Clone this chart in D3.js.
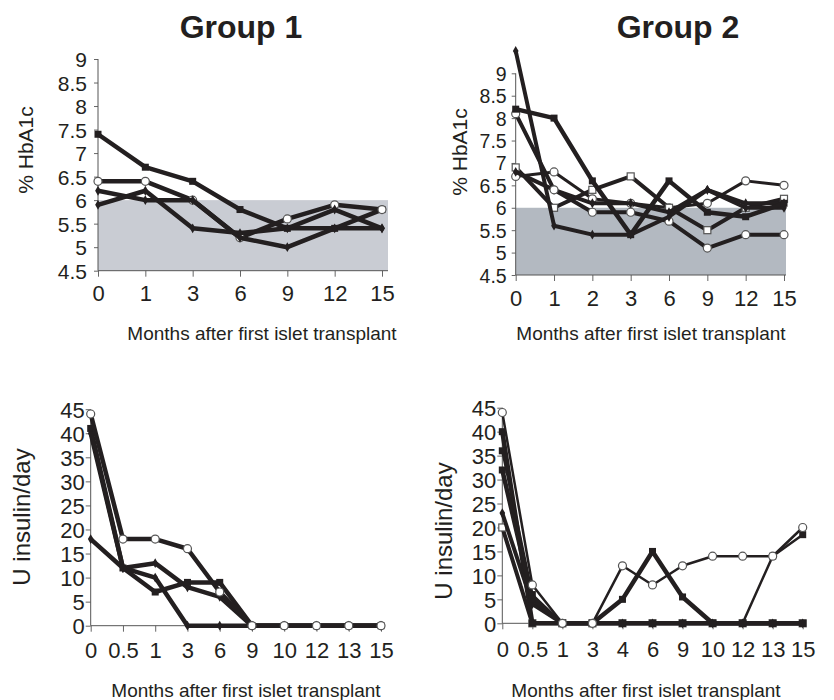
<!DOCTYPE html>
<html>
<head>
<meta charset="utf-8">
<script src="https://cdn.jsdelivr.net/npm/d3@7"></script>
<style>
  body { margin: 0; background: #fff; }
  text { font-family: "Liberation Sans", Arial, Helvetica, sans-serif; fill: #231f20; }
</style>
</head>
<body>
<div id="chart"></div>
<script>
// ---- data ----
// HbA1c, group 1
const hbaMonthsG1 = ['0', '1', '3', '6', '9', '12', '15'];
const g1HbaSquare = [7.4, 6.7, 6.4, 5.8, 5.4, 5.4, 5.8];
const g1HbaCircle = [6.4, 6.4, 6.0, 5.2, 5.6, 5.9, 5.8];
const g1HbaDiamondA = [6.2, 6.0, 6.0, 5.2, 5.0, 5.4, 5.4];
const g1HbaDiamondB = [5.9, 6.2, 5.4, 5.3, 5.4, 5.8, 5.4];

// HbA1c, group 2
const hbaMonthsG2 = ['0', '1', '2', '3', '6', '9', '12', '15'];
const g2HbaSquare = [8.2, 8.0, 6.6, 5.4, 6.6, 5.9, 5.8, 6.1];
const g2HbaDiamondA = [9.5, 5.6, 5.4, 5.4, 5.8, 6.4, 6.1, 6.1];
const g2HbaOpenSquare = [6.9, 6.0, 6.4, 6.7, 6.0, 5.5, 6.0, 6.2];
const g2HbaCircleA = [6.7, 6.8, 6.2, 6.1, 6.0, 6.1, 6.6, 6.5];
const g2HbaCircleB = [8.1, 6.4, 5.9, 5.9, 5.7, 5.1, 5.4, 5.4];
const g2HbaDiamondB = [6.8, 6.4, 6.1, 6.1, 5.9, 6.4, 6.0, 6.0];

// insulin, group 1
const insMonthsG1 = ['0', '0.5', '1', '3', '6', '9', '10', '12', '13', '15'];
const g1InsCircle = [44, 18, 18, 16, 7, 0, 0, 0, 0, 0];
const g1InsSquare = [41, 12, 7, 9, 9, 0, 0, 0, 0, 0];
const g1InsDiamondA = [40, 12, 10, 0, 0, 0, 0, 0, 0, 0];
const g1InsDiamondB = [18, 12, 13, 8, 6, 0, 0, 0, 0, 0];

// insulin, group 2
const insMonthsG2 = ['0', '0.5', '1', '3', '4', '6', '9', '10', '12', '13', '15'];
const g2InsCircle = [44, 8, 0, 0, 12, 8, 12, 14, 14, 14, 20];
const g2InsSquareA = [32, 5, 0, 0, 5, 15, 5.5, 0, 0, 0, 0];
const g2InsSquareB = [36, 6, 0, 0, 0, 0, 0, 0, 0, 14, 18.5];
const g2InsSquareC = [40, 0, 0, 0, 0, 0, 0, 0, 0, 0, 0];
const g2InsDiamond = [23, 4, 0, 0, 0, 0, 0, 0, 0, 0, 0];
const g2InsOpenSquare = [20, 0, 0, 0, 0, 0, 0, 0, 0, 0, 0];

// axis ticks
const hbaTicks = [4.5, 5, 5.5, 6, 6.5, 7, 7.5, 8, 8.5, 9];
const insTicks = [0, 5, 10, 15, 20, 25, 30, 35, 40, 45];
const normalRange = [4.5, 6]; // shaded band

const ink = '#231f20';
const svg = d3.select('#chart').append('svg')
  .attr('width', 834).attr('height', 700)
  .style('background', '#fff');

// drawMarker()
// one marker of a given kind at (cx, cy)
function drawMarker(g, kind, cx, cy) {
  if (kind === 'square') {
    g.append('rect').attr('x', cx - 3.5).attr('y', cy - 3.5).attr('width', 7).attr('height', 7).attr('fill', ink);
  } else if (kind === 'opensquare') {
    g.append('rect').attr('x', cx - 3.5).attr('y', cy - 3.5).attr('width', 7).attr('height', 7)
      .attr('fill', '#fff').attr('stroke', '#555').attr('stroke-width', 1.2);
  } else if (kind === 'circle') {
    g.append('circle').attr('cx', cx).attr('cy', cy).attr('r', 4)
      .attr('fill', '#fff').attr('stroke', '#555').attr('stroke-width', 1.2);
  } else if (kind === 'diamond') {
    g.append('path').attr('d', d3.symbol(d3.symbolDiamond, 28)()).attr('transform', 'translate(' + cx + ',' + cy + ')').attr('fill', ink);
  }
}

// drawPanel()
// band, axes, series and labels for one of the four charts
function drawPanel(cfg) {
  const x = d3.scalePoint().domain(cfg.months).range(cfg.xRange);
  const y = d3.scaleLinear().domain(cfg.yDomain).range(cfg.yRange);
  const g = svg.append('g');
  const x0 = cfg.xRange[0];
  const x1 = cfg.xRange[1] + cfg.overhang;

  if (cfg.bandColor) {
    g.append('rect')
      .attr('x', x0).attr('y', y(normalRange[1]))
      .attr('width', x1 - x0).attr('height', y(normalRange[0]) - y(normalRange[1]))
      .attr('fill', cfg.bandColor);
  }

  // y axis
  const ya = g.append('g').attr('transform', 'translate(' + x0 + ',0)')
    .call(d3.axisLeft(y).tickValues(cfg.yTicks).tickSizeInner(cfg.yTickSize).tickSizeOuter(0).tickFormat(d => String(d)));
  ya.select('.domain').remove();
  ya.selectAll('.tick line').attr('stroke', '#666');
  ya.selectAll('.tick text').attr('x', -cfg.yLabelGap).attr('dy', '0.36em')
    .style('font-size', cfg.yTickFont + 'px').attr('fill', ink);
  g.append('line').attr('x1', x0).attr('x2', x0)
    .attr('y1', y(cfg.yTicks[cfg.yTicks.length - 1])).attr('y2', y(cfg.yDomain[0]))
    .attr('stroke', '#555');

  // x axis
  const xa = g.append('g').attr('transform', 'translate(0,' + y(cfg.yDomain[0]) + ')')
    .call(d3.axisBottom(x).tickSizeInner(6).tickSizeOuter(0));
  xa.select('.domain').remove();
  xa.selectAll('.tick line').attr('stroke', '#666');
  xa.selectAll('.tick text').attr('y', cfg.xLabelDy).attr('dy', 0)
    .style('font-size', cfg.tickFont + 'px').attr('fill', ink);
  g.append('line').attr('x1', x0).attr('x2', x1)
    .attr('y1', y(cfg.yDomain[0])).attr('y2', y(cfg.yDomain[0]))
    .attr('stroke', '#555');

  // series
  const line = d3.line().x((d, i) => x(cfg.months[i])).y(d => y(d));
  cfg.series.forEach(s => {
    g.append('path').attr('d', line(s.values))
      .attr('fill', 'none').attr('stroke', ink)
      .attr('stroke-width', s.width).attr('stroke-linejoin', 'round');
    s.values.forEach((v, i) => drawMarker(g, s.marker, x(cfg.months[i]), y(v)));
  });

  // titles
  g.append('text')
    .attr('x', cfg.xTitle[0]).attr('y', cfg.xTitle[1])
    .attr('text-anchor', 'middle').style('font-size', '19px')
    .text('Months after first islet transplant');
  g.append('text')
    .attr('transform', 'translate(' + cfg.yTitle[0] + ',' + cfg.yTitle[1] + ') rotate(-90)')
    .attr('text-anchor', 'middle').style('font-size', cfg.yTitleFont + 'px')
    .text(cfg.yTitleText);
}

svg.append('text').attr('x', 241).attr('y', 38).attr('text-anchor', 'middle')
  .style('font-size', '32px').style('font-weight', 'bold').text('Group 1');
svg.append('text').attr('x', 678).attr('y', 38).attr('text-anchor', 'middle')
  .style('font-size', '32px').style('font-weight', 'bold').text('Group 2');

drawPanel({
  months: hbaMonthsG1, xRange: [98, 382], overhang: 6,
  yDomain: [4.5, 9], yRange: [270.7, 59], yTicks: hbaTicks,
  bandColor: '#c9ccd3', tickFont: 22, yTickFont: 21, yTickSize: 4, yLabelGap: 11, xLabelDy: 30,
  xTitle: [262, 340], yTitle: [33, 150], yTitleFont: 21, yTitleText: '% HbA1c',
  series: [
    { values: g1HbaSquare, marker: 'square', width: 4.5 },
    { values: g1HbaCircle, marker: 'circle', width: 4.5 },
    { values: g1HbaDiamondA, marker: 'diamond', width: 4.5 },
    { values: g1HbaDiamondB, marker: 'diamond', width: 4.5 },
  ],
});

drawPanel({
  months: hbaMonthsG2, xRange: [515.7, 784], overhang: 2,
  yDomain: [4.5, 9], yRange: [275, 73.3], yTicks: hbaTicks,
  bandColor: '#b3b9c1', tickFont: 22, yTickFont: 19.5, yTickSize: 4, yLabelGap: 9, xLabelDy: 31,
  xTitle: [651, 340], yTitle: [467, 152], yTitleFont: 21, yTitleText: '% HbA1c',
  series: [
    { values: g2HbaCircleA, marker: 'circle', width: 3 },
    { values: g2HbaOpenSquare, marker: 'opensquare', width: 4 },
    { values: g2HbaDiamondB, marker: 'diamond', width: 4 },
    { values: g2HbaCircleB, marker: 'circle', width: 4 },
    { values: g2HbaDiamondA, marker: 'diamond', width: 4 },
    { values: g2HbaSquare, marker: 'square', width: 4.5 },
  ],
});

drawPanel({
  months: insMonthsG1, xRange: [90.7, 381], overhang: 0,
  yDomain: [0, 45], yRange: [625.7, 409.2], yTicks: insTicks,
  bandColor: null, tickFont: 22, yTickFont: 22, yTickSize: 5, yLabelGap: 6, xLabelDy: 32,
  xTitle: [246, 697], yTitle: [30, 517], yTitleFont: 24, yTitleText: 'U insulin/day',
  series: [
    { values: g1InsDiamondB, marker: 'diamond', width: 4.5 },
    { values: g1InsDiamondA, marker: 'diamond', width: 4.5 },
    { values: g1InsSquare, marker: 'square', width: 4.5 },
    { values: g1InsCircle, marker: 'circle', width: 4.5 },
  ],
});

drawPanel({
  months: insMonthsG2, xRange: [502.3, 802.7], overhang: 0,
  yDomain: [0, 45], yRange: [623.3, 407.7], yTicks: insTicks,
  bandColor: null, tickFont: 22, yTickFont: 22, yTickSize: 5, yLabelGap: 6, xLabelDy: 34,
  xTitle: [646, 697], yTitle: [452, 531], yTitleFont: 24, yTitleText: 'U insulin/day',
  series: [
    { values: g2InsOpenSquare, marker: 'opensquare', width: 4 },
    { values: g2InsDiamond, marker: 'diamond', width: 4 },
    { values: g2InsSquareC, marker: 'square', width: 4.5 },
    { values: g2InsSquareB, marker: 'square', width: 2.5 },
    { values: g2InsSquareA, marker: 'square', width: 4.5 },
    { values: g2InsCircle, marker: 'circle', width: 2.5 },
  ],
});
</script>
</body>
</html>
